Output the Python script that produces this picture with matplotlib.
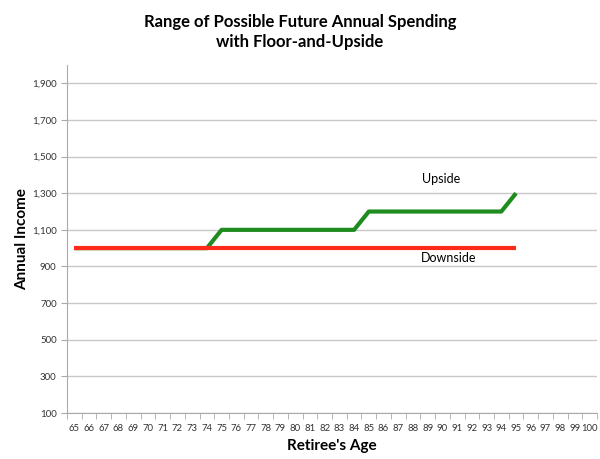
import matplotlib.pyplot as plt
import numpy as np

plt.rcParams['font.family'] = ['Lato', 'DejaVu Sans']

# data
ages = list(range(65, 101))
downside_ages = list(range(65, 96))
downside = [1000] * 31
upside_ages = list(range(65, 96))
upside = [1000] * 10 + [1100] * 10 + [1200] * 10 + [1300]
yticks = [100, 300, 500, 700, 900, 1100, 1300, 1500, 1700, 1900]

fig = plt.figure(figsize=(6, 4.59), dpi=100)
ax = fig.add_axes([0.1117, 0.1002, 0.8833, 0.7582])

pos = {a: i for i, a in enumerate(ages)}
ax.plot([pos[a] for a in upside_ages], upside, color='#1f8c1f', lw=3, zorder=3,
        solid_capstyle='butt')
ax.plot([pos[a] for a in downside_ages], downside, color='#ff2a1a', lw=3, zorder=4,
        solid_capstyle='butt')

ax.text(pos[90] - 0.1, 1375, 'Upside', fontsize=9, ha='center', va='center')
ax.text(pos[90] + 0.4, 945, 'Downside', fontsize=9, ha='center', va='center')

ax.set_xlim(-0.5, len(ages) - 0.5)
ax.set_ylim(100, 2000)
ax.set_xticks(range(len(ages)))
ax.set_xticklabels([str(a) for a in ages], fontsize=6.8, color='#333333')
ax.set_xticks(np.arange(-0.5, len(ages), 1), minor=True)
ax.tick_params(axis='x', which='major', length=0, pad=8)
ax.tick_params(axis='x', which='minor', length=4, color='#aaaaaa', direction='out')
ax.set_yticks(yticks)
ax.set_yticklabels([f'{v:,}' for v in yticks], fontsize=7, color='#333333')
ax.tick_params(axis='y', length=4, color='#aaaaaa', direction='out')

ax.grid(axis='y', color='#c8c8c8', lw=1)
ax.set_axisbelow(True)
for s in ['top', 'right']:
    ax.spines[s].set_visible(False)
for s in ['left', 'bottom']:
    ax.spines[s].set_color('#aaaaaa')

ax.set_xlabel("Retiree's Age", fontsize=11, fontweight='bold', labelpad=4)
ax.set_ylabel('Annual Income', fontsize=11, fontweight='bold', labelpad=2)
fig.suptitle('Range of Possible Future Annual Spending\nwith Floor-and-Upside',
             fontsize=12, fontweight='bold', y=0.97, x=0.5, linespacing=1.3)

plt.savefig('out.png', dpi=100)
